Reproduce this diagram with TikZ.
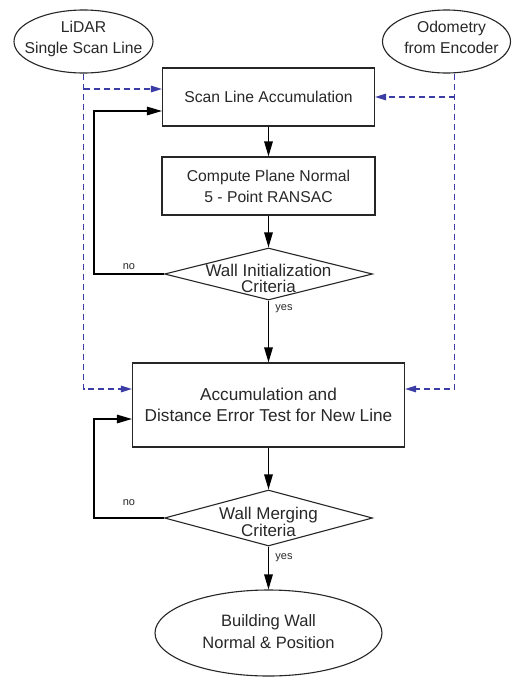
\documentclass[tikz,border=0pt]{standalone}
\usepackage{fontspec}
\setmainfont{Liberation Sans}
\usepackage{xcolor}
\usepackage{tikz}
\usetikzlibrary{arrows.meta,positioning,calc,shapes.geometric}

\definecolor{feedblue}{RGB}{60,60,165}
\definecolor{textgray}{RGB}{40,40,40}
% 文字不撑开形状 (首行基线 = 节点中心 + 偏移)
\newcommand{\zbox}[2][0pt]{\makebox[0pt]{\smash{\raisebox{#1}{\begin{tabular}[t]{@{}c@{}}#2\end{tabular}}}}}

\begin{document}
\begin{tikzpicture}[
        x=1pt, y=-1pt,
        font=\fontsize{15.7}{21}\selectfont,
        % 统一风格
        proc_node/.style={draw=black!85, line width=1.1pt, fill=white, minimum width=212pt, minimum height=58pt, align=center, text=textgray},
        cond_node/.style={diamond, draw=black!85, line width=1.1pt, fill=white, inner sep=0pt, minimum width=208pt, text=textgray, font=\fontsize{17}{15.5}\selectfont},
        io_node/.style={ellipse, draw=black!85, line width=1.1pt, fill=white, inner sep=0pt, text=textgray},
        tag/.style={font=\fontsize{11}{13}\selectfont, text=textgray},
        arrow/.style={-{Triangle[length=15pt, width=8.5pt]}, line width=1.3pt, draw=black},
        feedback/.style={-{Triangle[length=11pt, width=6.5pt]}, line width=1.4pt, draw=feedblue, dash pattern=on 6pt off 4pt}
    ]

    \useasboundingbox (0,0) rectangle (512,678);

    % ==========================================
    % 1. 节点 (像素坐标, y 向下)
    % ==========================================

    % --- 输入 ---
    \node[io_node, minimum width=139pt, minimum height=63pt] (lidar) at (83.5, 41.5) {\zbox[9.5pt]{LiDAR\\Single Scan Line}};
    \node[io_node, minimum width=128pt, minimum height=63pt] (odom) at (446.5, 41.5) {\zbox[9.5pt]{\hspace*{10pt}Odometry\\\hspace*{10pt}from Encoder}};

    % --- 初始化阶段 ---
    \node[proc_node] (scan_acc) at (268.5, 97) {Scan Line Accumulation};
    \node[proc_node, minimum width=213pt] (plane_fit) at (268.5, 186) {Compute Plane Normal\\5 - Point RANSAC};
    \node[cond_node, minimum height=52pt] (wall_init) at (268.5, 274) {\zbox[-2pt]{Wall Initialization\\Criteria}};

    % --- 合并阶段 ---
    \node[proc_node, minimum width=272pt, minimum height=84pt, font=\fontsize{17.2}{21}\selectfont] (accum_test) at (268.5, 405) {Accumulation and\\Distance Error Test for New Line};
    \node[cond_node, minimum height=56pt] (wall_merge) at (268.5, 518) {\zbox[-1.3pt]{Wall Merging\\Criteria}};

    % --- 输出 ---
    \node[io_node, minimum width=227pt, minimum height=86pt, font=\fontsize{16.5}{21.6}\selectfont] (wall_out) at (268.5, 633) {\zbox[6.3pt]{Building Wall\\Normal \& Position}};

    % ==========================================
    % 2. 主流程
    % ==========================================
    \draw[arrow] (scan_acc.south) -- (plane_fit.north);
    \draw[arrow] (plane_fit.south) -- (wall_init.north);
    \draw[arrow] (wall_init.south) -- node[tag, pos=0.13, anchor=west, xshift=3pt] {yes} (accum_test.north);
    \draw[arrow] (accum_test.south) -- (wall_merge.north);
    \draw[arrow] (wall_merge.south) -- node[tag, pos=0.25, anchor=west, xshift=3pt] {yes} (wall_out.north);

    % --- 回环 (no) ---
    \draw[arrow] (wall_init.west) -- node[tag, above] {no} ++(-70,0) |- ([yshift=-14pt]scan_acc.west);
    \draw[arrow] (wall_merge.west) -- node[tag, above, yshift=8pt] {no} ++(-70,0) |- ([yshift=-14pt]accum_test.west);

    % ==========================================
    % 3. 传感器虚线输入
    % ==========================================
    \draw[feedback] (lidar.south) |- ([yshift=16pt]accum_test.west);
    \draw[feedback] ($(lidar.south |- scan_acc.west)+(0,-8)$) -- ([yshift=8pt]scan_acc.west);
    \draw[feedback] ([xshift=8pt]odom.south) |- ([yshift=16pt]accum_test.east);
    \draw[feedback] ($(odom.south |- scan_acc.east)+(8,0)$) -- (scan_acc.east);

\end{tikzpicture}
\end{document}
